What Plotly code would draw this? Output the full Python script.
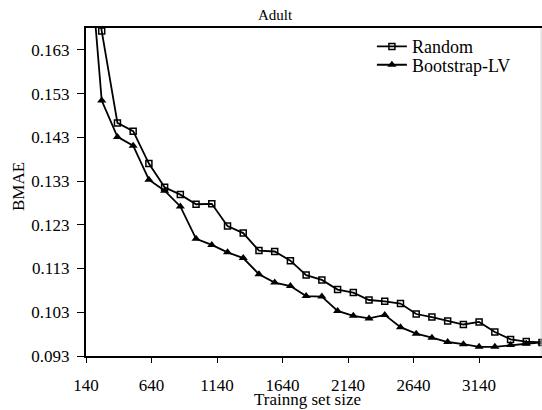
import plotly.graph_objects as go

# Training set sizes (x) and BMAE for the two sampling strategies
train_sizes = [140, 260, 380, 500, 620, 740, 860, 980, 1100, 1220, 1340, 1460,
               1580, 1700, 1820, 1940, 2060, 2180, 2300, 2420, 2540, 2660, 2780,
               2900, 3020, 3140, 3260, 3380, 3500, 3620]

random_bmae = [0.195, 0.1673, 0.1463, 0.1444, 0.1370, 0.1316, 0.1299, 0.1277,
               0.1278, 0.1227, 0.1211, 0.1171, 0.1169, 0.1148, 0.1115, 0.1104,
               0.1082, 0.1075, 0.1058, 0.1055, 0.1050, 0.1026, 0.1019, 0.1010,
               0.1002, 0.1008, 0.0985, 0.0968, 0.0963, 0.0961]

bootstrap_bmae = [0.195, 0.1514, 0.1431, 0.1411, 0.1333, 0.1308, 0.1272, 0.1198,
                  0.1184, 0.1167, 0.1154, 0.1117, 0.1098, 0.1090, 0.1067, 0.1066,
                  0.1033, 0.1022, 0.1016, 0.1024, 0.0996, 0.0981, 0.0972, 0.0962,
                  0.0957, 0.0951, 0.0951, 0.0955, 0.0958, 0.0961]

x_ticks = [140, 640, 1140, 1640, 2140, 2640, 3140]
y_ticks = [0.093, 0.103, 0.113, 0.123, 0.133, 0.143, 0.153, 0.163]

FONT = "Liberation Serif, Times New Roman, serif"

fig = go.Figure()
fig.add_trace(go.Scatter(
    x=train_sizes, y=random_bmae, name="Random", mode="lines+markers",
    line=dict(color="black", width=1.8),
    marker=dict(symbol="square-open", size=6, color="black", line=dict(width=1.5)),
    legend="legend", showlegend=True,
))
fig.add_trace(go.Scatter(
    x=train_sizes, y=bootstrap_bmae, name="Bootstrap-LV", mode="lines+markers",
    line=dict(color="black", width=1.8),
    marker=dict(symbol="triangle-up", size=8, color="black"),
    legend="legend2", showlegend=True,
))

legend_common = dict(
    xref="paper", yref="paper", xanchor="left", yanchor="middle",
    bgcolor="rgba(0,0,0,0)", borderwidth=0, visible=True,
    font=dict(family=FONT, size=18, color="black"),
)

fig.update_layout(
    width=542, height=410,
    margin=dict(l=86, r=0, t=28, b=54),
    paper_bgcolor="white", plot_bgcolor="white",
    showlegend=True,
    font=dict(family=FONT, color="black"),
    title=dict(text="Adult", x=275 / 542, xanchor="center", y=1 - 15 / 410,
               yanchor="middle", font=dict(family=FONT, size=15, color="black")),
    legend=dict(x=0.627, y=0.943, **legend_common),
    legend2=dict(x=0.627, y=0.887, **legend_common),
    xaxis=dict(
        range=[140, 3620], tickvals=x_ticks, ticktext=[str(v) for v in x_ticks],
        showgrid=False, zeroline=False, showline=True, linecolor="black",
        linewidth=2, mirror=True, ticks="outside", ticklen=5, tickwidth=1,
        tickcolor="black", ticklabelstandoff=8,
        tickfont=dict(family=FONT, size=17, color="black"),
    ),
    yaxis=dict(
        range=[0.093, 0.168], tickvals=y_ticks,
        ticktext=[f"{v:.3f}" for v in y_ticks],
        showgrid=False, zeroline=False, showline=True, linecolor="black",
        linewidth=2, ticks="outside", ticklen=7, tickwidth=1,
        tickcolor="black", ticklabelstandoff=4,
        tickfont=dict(family=FONT, size=17, color="black"),
    ),
    shapes=[dict(type="line", xref="paper", yref="paper", x0=0.998, x1=0.998,
                 y0=0, y1=1, line=dict(color="#d0d0d0", width=1))],
    annotations=[
        dict(text="Trainng set size", xref="paper", yref="paper",
             x=(307 - 86) / 456, y=-(399 - 356) / 328, xanchor="center",
             yanchor="middle", showarrow=False,
             font=dict(family=FONT, size=17, color="black")),
        dict(text="BMAE", xref="paper", yref="paper",
             x=-(86 - 18) / 456, y=1 - (187 - 28) / 328, xanchor="center",
             yanchor="middle", textangle=-90, showarrow=False,
             font=dict(family=FONT, size=17, color="black")),
    ],
)

fig.write_html("out.html")
